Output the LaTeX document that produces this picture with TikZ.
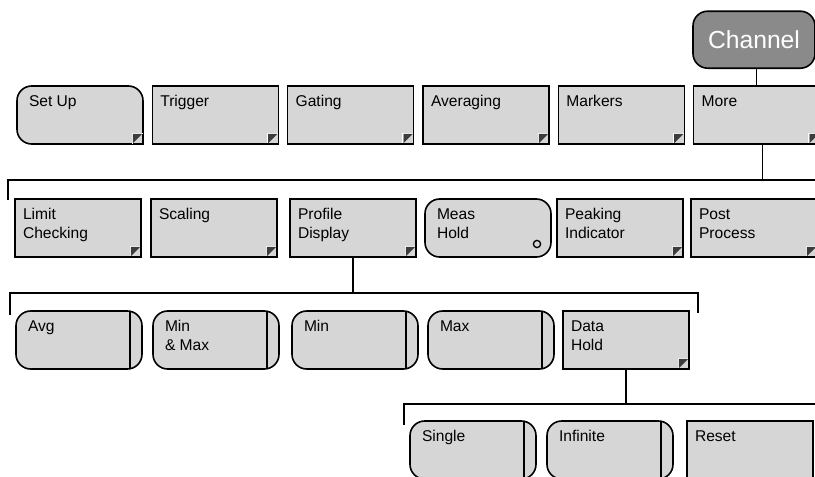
\documentclass[tikz,border=0pt]{standalone}
\usepackage{fontspec}
\setmainfont{Liberation Sans}
\usetikzlibrary{positioning, calc}

\definecolor{keygray}{HTML}{D6D6D6}
\definecolor{chanfill}{HTML}{8A8A8A}
\definecolor{flaggray}{HTML}{3C3C3C}

% small corner flag of a key that opens a submenu
\newcommand{\subflag}[1]{%
	\draw[white, line width=0.75pt] ([xshift=-8.25pt]#1) |- ([yshift=8.25pt]#1);
	\fill[flaggray] ([shift={(-7.6pt,7.6pt)}]#1) -- ([shift={(-0.6pt,7.6pt)}]#1) -- ([shift={(-7.6pt,0.6pt)}]#1) -- cycle;}

\begin{document}
\begin{tikzpicture}[
		x=0.75pt, y=-0.75pt,
		% softkey styles
		keybase/.style = {draw, fill=keygray, line width=1.2pt, outer sep=0pt, inner ysep=7pt, font=\fontsize{11.7}{14.25}\selectfont},
		key/.style = {keybase, inner xsep=6pt,
			execute at begin node={\begin{minipage}[c][29.5pt][t]{82.5pt}},
			execute at end node={\end{minipage}}},
		subkey/.style = {key, path picture={\subflag{path picture bounding box.south east}}},
		softkey/.style = {keybase, rounded corners=11pt, inner xsep=9pt,
			execute at begin node={\begin{minipage}[c][29.5pt][t]{76.5pt}},
			execute at end node={\end{minipage}}},
		choicekey/.style = {softkey, path picture={\draw[line width=1.2pt] ([xshift=-9pt]path picture bounding box.north east) -- ([xshift=-9pt]path picture bounding box.south east);}},
		holdkey/.style = {softkey, path picture={\draw[line width=1pt] ([shift={(-10.5pt,9.75pt)}]path picture bounding box.south east) circle (2.7pt);}},
		chan/.style = {draw, fill=chanfill, text=white, rounded corners=11pt, line width=1.2pt, minimum width=91.5pt, minimum height=42.75pt, font=\fontsize{18.5}{22}\selectfont},
		wire/.style = {line width=1.2pt}
		]
		\useasboundingbox (0,0) rectangle (815,476);
		\clip (0,0) rectangle (815,476);
		
		% --- CHANNEL MENU ---
		\node [softkey, anchor=north west] (setup) at (17,86) {Set Up};
		\node [subkey, right=7pt of setup] (trigger) {Trigger};
		\node [subkey, right=7pt of trigger] (gating) {Gating};
		\node [subkey, right=7pt of gating] (averaging) {Averaging};
		\node [subkey, right=7pt of averaging] (markers) {Markers};
		\node [subkey, right=7pt of markers] (more) {More};
		\node [chan, above=12.75pt of more, xshift=-2pt] (chan) {Channel};
		
		% square corner + flag of Set Up
		\fill [keygray] ($(setup.south east)+(-15,0)$) rectangle ($(setup.south east)+(0,-15)$);
		\draw [wire] ($(setup.south east)+(-15,0)$) -| ($(setup.south east)+(0,-15)$);
		\subflag{setup.south east}
		
		\draw [wire] (chan.south -| more) -- (more);
		
		% --- MORE ---
		\node [subkey, anchor=north west] (limit) at (15,199) {Limit\\Checking};
		\node [subkey, right=7.5pt of limit] (scaling) {Scaling};
		\node [subkey, right=9.75pt of scaling] (profile) {Profile\\Display};
		\node [holdkey, right=6.75pt of profile] (meas) {Meas\\Hold};
		\node [subkey, right=4.5pt of meas] (peaking) {Peaking\\Indicator};
		\node [subkey, right=6pt of peaking] (post) {Post\\Process};
		
		\draw [wire] ([xshift=4.5pt]more.south) -- ++(0,36) coordinate (b2);
		\draw [wire] ($(limit.north west)+(-7,1)$) |- (b2) -- ++(80,0);
		
		% --- PROFILE DISPLAY ---
		\node [choicekey, anchor=north west] (avg) at (16,311) {Avg};
		\node [choicekey, right=8.25pt of avg] (minmax) {Min\\\& Max};
		\node [choicekey, right=9.75pt of minmax] (min) {Min};
		\node [choicekey, right=7.5pt of min] (max) {Max};
		\node [subkey, right=6.75pt of max] (datahold) {Data\\Hold};
		
		\draw [wire] (profile.south) -- ++(0,36) coordinate (b3);
		\draw [wire] ($(avg.north west)+(-6,4)$) |- (b3) -| ($(datahold.north east)+(9,2)$);
		
		% --- DATA HOLD ---
		\node [choicekey, anchor=north west] (single) at (410,421) {Single};
		\node [choicekey, right=8.25pt of single] (infinite) {Infinite};
		\node [key, right=10.5pt of infinite] (reset) {Reset};
		
		\draw [wire] (datahold.south) -- ++(0,35) coordinate (b4);
		\draw [wire] ($(single.north west)+(-6,4)$) |- (b4) -- ++(220,0);
		
	\end{tikzpicture}
\end{document}
